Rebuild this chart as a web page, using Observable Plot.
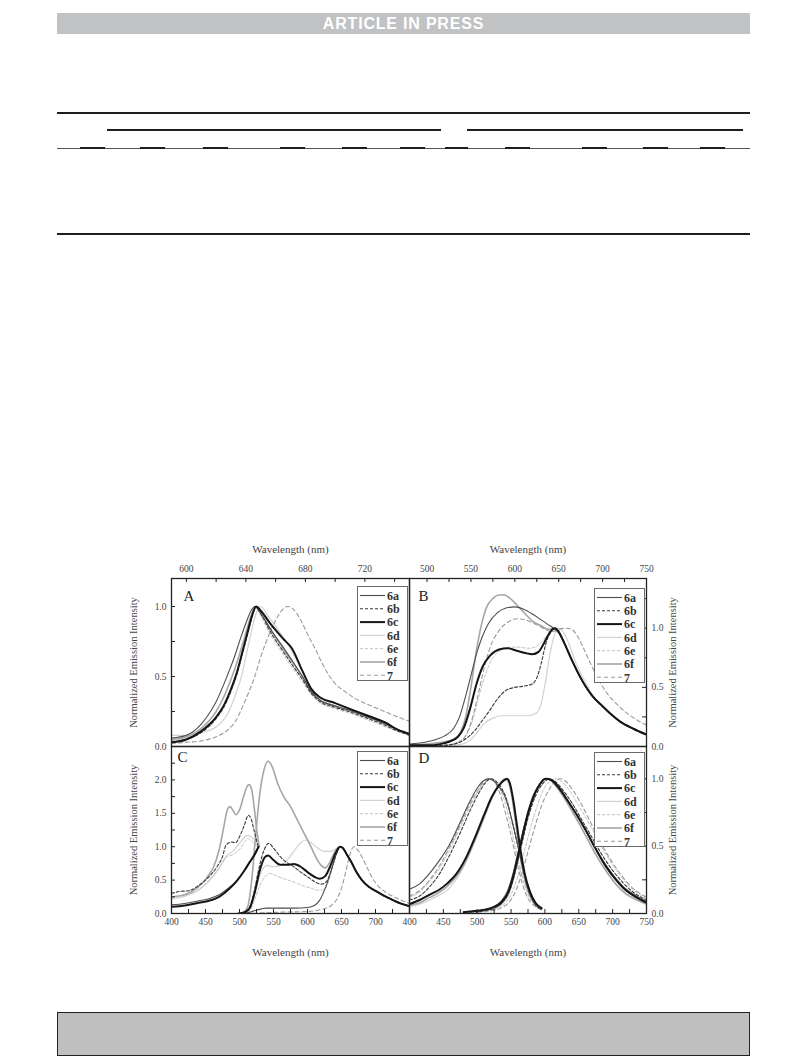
<!DOCTYPE html>
<html>
<head>
<meta charset="utf-8">
<script src="https://cdn.jsdelivr.net/npm/d3@7"></script>
<script src="https://cdn.jsdelivr.net/npm/@observablehq/plot@0.6"></script>
<style>
html,body{margin:0;padding:0;background:#fff;}
#page{position:relative;width:793px;height:1057px;overflow:hidden;background:#fff;}
.abs{position:absolute;}
.rule{position:absolute;background:#1e1e1e;}
</style>
</head>
<body>
<div id="page">
  <div class="abs" style="left:57px;top:13px;width:693px;height:21px;background:#c1c2c4;color:#fff;font-family:'Liberation Sans',Arial,sans-serif;font-weight:bold;font-size:16px;line-height:21px;text-align:center;letter-spacing:0.8px;">ARTICLE IN PRESS</div>
  <div class="rule" style="left:57px;top:112px;width:693px;height:2px;"></div>
  <div class="rule" style="left:107px;top:129px;width:334px;height:1.6px;"></div>
  <div class="rule" style="left:467px;top:129px;width:276px;height:1.6px;"></div>
  <div class="rule" style="left:57px;top:147.5px;width:693px;height:1px;background:#555;"></div>
  <div id="segs"></div>
  <div class="rule" style="left:57px;top:233px;width:693px;height:2px;"></div>
  <div class="abs" style="left:57px;top:1012px;width:691px;height:42px;background:#bfbfbf;border:1px solid #222;"></div>
</div>
<script>
// ---------- series definitions ----------
const series = ["6a","6b","6c","6d","6e","6f","7"];
const seriesStroke = ["#4d4d4d","#3a3a3a","#151515","#d2d2d2","#c2c2c2","#a6a6a6","#9a9a9a"];
const seriesDash = [null,"3,2",null,null,"3,2",null,"4,3"];
const seriesWidth = [1.1,1.1,2.0,1.2,1.0,1.6,1.1];
const drawOrder = [3,4,6,5,1,0,2];

// ---------- panel A (590-750 nm) ----------
const A_6a = [[590,.06],[600,.08],[610,.16],[615,.23],[620,.32],[625,.44],[628,.52],[632,.63],[636,.76],[640,.88],[644,.98],[646,1],[650,.95],[657,.83],[665,.71],[672,.6],[678,.5],[684,.39],[690,.33],[700,.29],[712,.25],[722,.21],[734,.16],[742,.12],[750,.09]];
const A_6b = [[590,.03],[600,.05],[610,.1],[620,.2],[625,.28],[630,.4],[634,.52],[638,.68],[641,.8],[644,.92],[647,1],[650,.95],[657,.81],[665,.68],[672,.57],[678,.48],[684,.38],[690,.32],[700,.28],[712,.24],[722,.2],[734,.15],[742,.11],[750,.08]];
const A_6c = [[590,.03],[600,.05],[610,.11],[620,.21],[625,.29],[630,.41],[634,.53],[638,.69],[641,.81],[644,.93],[647,1],[650,.97],[657,.87],[665,.77],[671,.7],[678,.54],[684,.41],[690,.35],[700,.31],[712,.26],[722,.22],[734,.17],[742,.12],[750,.09]];
const A_6d = [[590,.08],[600,.08],[610,.1],[620,.14],[628,.24],[633,.37],[637,.5],[641,.69],[645,.88],[648,.98],[650,1],[655,.93],[660,.86],[667,.75],[672,.66],[678,.54],[684,.42],[690,.35],[700,.31],[712,.26],[722,.22],[734,.17],[742,.12],[750,.09]];
const A_6e = [[590,.04],[600,.06],[610,.1],[620,.2],[625,.27],[630,.39],[634,.51],[638,.67],[641,.79],[644,.91],[646,1],[650,.93],[657,.79],[665,.66],[672,.55],[678,.46],[684,.37],[690,.31],[700,.27],[712,.23],[722,.19],[734,.14],[742,.11],[750,.08]];
const A_6f = [[590,.05],[600,.07],[610,.13],[620,.25],[625,.35],[630,.48],[634,.6],[638,.74],[641,.85],[644,.95],[646,1],[650,.95],[657,.83],[665,.7],[672,.59],[678,.5],[684,.39],[690,.33],[700,.29],[712,.25],[722,.21],[734,.16],[742,.12],[750,.09]];
const A_7  = [[590,.02],[600,.03],[610,.04],[620,.07],[628,.12],[633,.18],[638,.29],[642,.39],[646,.5],[650,.64],[653,.73],[656,.81],[660,.9],[664,.97],[668,1],[672,.98],[676,.92],[682,.79],[687,.69],[691,.6],[700,.45],[707,.39],[714,.34],[722,.3],[731,.26],[740,.22],[750,.18]];

// ---------- panel B (480-750 nm) ----------
const B_6a = [[480,.02],[500,.04],[510,.06],[520,.09],[530,.15],[537,.25],[543,.4],[550,.6],[557,.8],[563,.93],[570,1.04],[580,1.13],[590,1.17],[600,1.18],[610,1.16],[620,1.12],[630,1.07],[638,1.03],[644,1],[650,.96],[656,.88],[665,.73],[675,.58],[688,.43],[700,.34],[710,.27],[720,.21],[735,.15],[750,.1]];
const B_6b = [[480,0],[500,.005],[520,.01],[535,.03],[545,.07],[555,.14],[563,.22],[570,.29],[580,.4],[589,.47],[600,.5],[610,.51],[620,.53],[625,.58],[630,.7],[635,.86],[640,.96],[645,1],[650,.96],[656,.88],[665,.73],[675,.58],[688,.43],[700,.34],[710,.27],[720,.21],[735,.15],[750,.1]];
const B_6c = [[480,.01],[500,.01],[515,.02],[525,.04],[535,.08],[542,.16],[549,.32],[556,.52],[563,.67],[572,.77],[582,.82],[592,.83],[602,.81],[612,.79],[620,.78],[627,.8],[633,.87],[638,.94],[643,.99],[646,1],[650,.97],[656,.88],[665,.73],[675,.58],[688,.43],[700,.34],[710,.27],[720,.21],[735,.15],[750,.1]];
const B_6d = [[480,0],[520,.005],[540,.02],[550,.06],[558,.13],[566,.2],[575,.24],[585,.26],[600,.26],[615,.26],[624,.28],[630,.36],[635,.55],[640,.78],[645,.94],[650,1],[655,.97],[662,.86],[670,.7],[680,.55],[690,.42],[700,.34],[710,.27],[720,.21],[735,.15],[750,.1]];
const B_6e = [[480,0],[520,.01],[535,.04],[545,.1],[553,.25],[560,.45],[567,.62],[575,.75],[585,.82],[595,.84],[605,.84],[615,.83],[623,.84],[630,.88],[638,.95],[645,1],[650,.96],[656,.87],[665,.72],[675,.57],[688,.42],[700,.34],[710,.27],[720,.21],[735,.15],[750,.1]];
const B_6f = [[480,.01],[500,.02],[520,.04],[530,.06],[538,.12],[544,.25],[550,.5],[556,.8],[562,1.03],[568,1.18],[575,1.25],[582,1.28],[588,1.28],[595,1.25],[603,1.19],[612,1.12],[620,1.06],[630,1.02],[638,.99],[645,1],[650,.97],[656,.88],[665,.73],[675,.58],[688,.43],[700,.34],[710,.27],[720,.21],[735,.15],[750,.1]];
const B_7  = [[480,0],[520,.01],[535,.03],[543,.08],[550,.2],[557,.4],[564,.63],[572,.84],[582,.98],[592,1.05],[602,1.08],[612,1.07],[622,1.04],[632,1.0],[642,.97],[650,.99],[658,1],[665,.99],[670,.95],[677,.85],[685,.72],[695,.57],[705,.45],[716,.36],[728,.28],[740,.22],[750,.18]];

// ---------- panel C (400-750 nm): excitation + emission ----------
const C_ex_6a = [[400,.13],[420,.15],[440,.19],[455,.22],[470,.28],[485,.39],[497,.5],[507,.64],[515,.76],[522,.87],[528,1.0]];
const C_ex_6b = [[400,.3],[412,.33],[425,.34],[440,.42],[455,.55],[467,.7],[475,.85],[480,1.02],[488,1.07],[494,1.06],[500,1.15],[507,1.32],[513,1.47],[517,1.42],[522,1.22],[527,1.02]];
const C_ex_6c = [[400,.1],[420,.12],[440,.16],[455,.19],[470,.25],[485,.37],[497,.5],[507,.64],[515,.77],[522,.88],[528,1.0]];
const C_ex_6d = [[400,.22],[420,.26],[440,.35],[455,.48],[470,.68],[480,.85],[490,.93],[500,1.05],[508,1.15],[513,1.17],[518,1.14],[523,1.08],[528,1.0]];
const C_ex_6e = [[400,.25],[420,.28],[440,.36],[455,.5],[470,.68],[482,.85],[490,.88],[500,.96],[508,1.08],[513,1.12],[518,1.08],[523,1.03],[528,1.0]];
const C_ex_6f = [[400,.25],[415,.27],[430,.33],[445,.45],[455,.58],[462,.7],[470,.95],[477,1.3],[482,1.55],[486,1.6],[490,1.55],[495,1.48],[500,1.55],[506,1.75],[511,1.9],[514,1.93],[518,1.85],[522,1.55],[526,1.2],[529,1.0]];
const C_em_6a = [[505,0],[515,.02],[525,.05],[540,.08],[560,.08],[580,.08],[600,.09],[610,.12],[618,.2],[625,.35],[632,.55],[638,.75],[643,.9],[648,1],[652,.98],[658,.88],[665,.76],[672,.62],[680,.5],[690,.4],[700,.34],[710,.28],[720,.23],[730,.18],[740,.14],[750,.11]];
const C_em_6b = [[495,0],[505,.02],[515,.1],[522,.35],[528,.65],[535,.92],[543,1.05],[550,.98],[560,.85],[570,.76],[580,.7],[590,.62],[600,.55],[610,.48],[620,.44],[628,.48],[635,.65],[642,.88],[648,1],[652,.98],[658,.88],[665,.76],[672,.62],[680,.5],[690,.4],[700,.34],[710,.28],[720,.23],[730,.18],[740,.14],[750,.11]];
const C_em_6c = [[500,0],[508,.02],[515,.08],[522,.3],[530,.65],[537,.84],[542,.87],[550,.8],[560,.73],[570,.73],[580,.74],[590,.7],[600,.62],[610,.55],[618,.52],[626,.56],[634,.72],[641,.9],[648,1],[652,.98],[658,.88],[665,.76],[672,.62],[680,.5],[690,.4],[700,.34],[710,.28],[720,.23],[730,.18],[740,.14],[750,.11]];
const C_em_6d = [[500,0],[510,.03],[518,.15],[525,.4],[532,.62],[540,.72],[550,.7],[560,.72],[570,.8],[580,.93],[590,1.06],[597,1.1],[605,1.06],[615,.98],[625,.93],[635,.93],[642,.97],[648,1],[652,.98],[658,.89],[665,.77],[672,.63],[680,.51],[690,.41],[700,.34],[710,.28],[720,.23],[730,.18],[740,.14],[750,.11]];
const C_em_6e = [[505,0],[515,.04],[522,.2],[530,.42],[538,.56],[545,.6],[555,.56],[565,.52],[575,.49],[585,.45],[595,.41],[605,.38],[615,.35],[622,.35],[630,.45],[637,.7],[643,.9],[648,1],[652,.98],[658,.88],[665,.76],[672,.62],[680,.5],[690,.4],[700,.34],[710,.28],[720,.23],[730,.18],[740,.14],[750,.11]];
const C_em_6f = [[505,0],[512,.1],[518,.5],[524,1.2],[530,1.8],[536,2.15],[542,2.28],[548,2.2],[556,1.95],[565,1.75],[575,1.6],[585,1.4],[595,1.2],[605,1.0],[613,.83],[620,.72],[626,.68],[632,.75],[638,.88],[643,.97],[648,1],[652,.98],[658,.88],[665,.76],[672,.62],[680,.5],[690,.4],[700,.34],[710,.28],[720,.23],[730,.18],[740,.14],[750,.11]];
const C_em_7  = [[520,0],[560,.02],[600,.03],[620,.06],[635,.12],[645,.25],[652,.45],[658,.7],[663,.9],[668,1],[673,.96],[680,.85],[688,.68],[696,.52],[705,.4],[715,.32],[725,.26],[738,.2],[750,.15]];

// ---------- panel D (400-750 nm): excitation + emission ----------
const D_ex_6a = [[400,.18],[415,.22],[430,.3],[445,.4],[460,.52],[475,.68],[488,.82],[500,.93],[508,.98],[515,1],[523,.99],[532,.94],[540,.88],[550,.72],[558,.55],[566,.37],[574,.2],[582,.1],[590,.05],[595,.03]];
const D_ex_6b = [[400,.1],[415,.13],[430,.2],[445,.3],[460,.44],[475,.6],[490,.77],[503,.9],[512,.97],[520,1],[528,.98],[536,.93],[544,.84],[552,.67],[560,.5],[568,.32],[576,.17],[585,.07],[595,.03]];
const D_ex_6c = [[400,.07],[415,.1],[430,.14],[445,.18],[455,.22],[470,.3],[485,.43],[498,.58],[510,.73],[522,.87],[532,.95],[540,.99],[544,1],[548,.97],[553,.85],[558,.68],[564,.47],[570,.3],[578,.16],[586,.08],[595,.04]];
const D_ex_6d = [[400,.05],[415,.07],[430,.1],[445,.14],[455,.17],[470,.26],[485,.4],[498,.56],[510,.72],[522,.87],[532,.96],[540,1],[545,.98],[550,.9],[556,.72],[562,.5],[568,.32],[576,.16],[585,.07],[595,.03]];
const D_ex_6e = [[400,.12],[415,.16],[430,.24],[445,.34],[460,.48],[475,.64],[490,.8],[503,.92],[512,.98],[518,1],[526,.98],[534,.92],[542,.81],[550,.64],[558,.45],[566,.28],[574,.15],[584,.07],[595,.03]];
const D_ex_6f = [[400,.06],[415,.08],[430,.12],[445,.16],[455,.2],[470,.28],[485,.41],[498,.56],[510,.71],[522,.86],[532,.95],[538,.99],[542,1],[546,.98],[551,.88],[556,.7],[562,.48],[568,.3],[576,.15],[585,.07],[595,.03]];
const D_ex_7  = [[400,.13],[415,.17],[430,.25],[445,.36],[460,.5],[475,.66],[490,.82],[503,.93],[512,.99],[518,1],[525,.98],[533,.9],[541,.76],[549,.6],[557,.42],[565,.25],[574,.12],[584,.06],[595,.03]];
const D_em_6a = [[480,.01],[500,.02],[520,.04],[535,.09],[545,.17],[553,.3],[560,.45],[567,.6],[575,.76],[583,.88],[592,.96],[600,1],[608,.99],[618,.94],[630,.86],[645,.75],[660,.62],[675,.48],[690,.36],[705,.26],[720,.18],[735,.13],[750,.09]];
const D_em_6b = [[490,.01],[510,.02],[525,.04],[540,.1],[550,.2],[558,.35],[566,.52],[574,.69],[582,.82],[592,.93],[600,.98],[606,1],[615,.98],[626,.92],[640,.82],[655,.69],[670,.56],[685,.43],[700,.32],[715,.23],[730,.16],[750,.1]];
const D_em_6c = [[480,.01],[500,.02],[520,.04],[535,.08],[545,.15],[553,.27],[560,.42],[568,.6],[576,.76],[585,.89],[594,.97],[601,1],[610,.99],[620,.94],[632,.85],[646,.74],[660,.62],[675,.48],[690,.35],[705,.25],[720,.17],[735,.12],[750,.08]];
const D_em_6d = [[480,.01],[500,.02],[520,.03],[535,.07],[545,.14],[553,.26],[560,.41],[568,.59],[576,.76],[585,.89],[594,.97],[600,1],[608,.99],[618,.93],[630,.84],[645,.71],[660,.58],[675,.44],[690,.32],[705,.22],[720,.15],[735,.1],[750,.07]];
const D_em_6e = [[495,.01],[515,.02],[530,.04],[545,.1],[555,.2],[563,.33],[571,.49],[580,.66],[590,.82],[600,.94],[610,.99],[617,1],[627,.97],[638,.9],[650,.8],[665,.67],[680,.53],[695,.4],[710,.29],[725,.2],[740,.14],[750,.11]];
const D_em_6f = [[480,.01],[500,.02],[520,.03],[535,.07],[545,.13],[553,.25],[560,.4],[568,.58],[576,.75],[585,.88],[594,.97],[601,1],[609,.99],[619,.93],[631,.84],[646,.71],[661,.57],[676,.43],[691,.31],[706,.21],[721,.14],[736,.1],[750,.07]];
const D_em_7  = [[500,.01],[520,.02],[535,.04],[548,.09],[558,.18],[566,.3],[575,.46],[585,.64],[595,.8],[605,.91],[615,.98],[623,1],[631,.98],[642,.91],[655,.8],[668,.67],[682,.53],[697,.4],[712,.29],[727,.2],[740,.15],[750,.12]];

// ---------- axis tick labels ----------
const A_xLabels = [600,640,680,720];
const A_xTicks = [600,620,640,660,680,700,720,740];
const A_yLabels = [0,0.5,1.0];
const A_yTicks = [0,0.25,0.5,0.75,1.0];
const B_xLabels = [500,550,600,650,700,750];
const B_xTicks = [500,525,550,575,600,625,650,675,700,725];
const B_yLabels = [0,0.5,1.0];
const B_yTicks = [0,0.25,0.5,0.75,1.0,1.25];
const C_xLabels = [400,450,500,550,600,650,700];
const C_xTicks = [425,450,475,500,525,550,575,600,625,650,675,700,725];
const C_yLabels = [0,0.5,1.0,1.5,2.0];
const C_yTicks = [0,0.25,0.5,0.75,1.0,1.25,1.5,1.75,2.0,2.25];
const D_xLabels = [400,450,500,550,600,650,700,750];
const D_xTicks = [425,450,475,500,525,550,575,600,625,650,675,700,725];
const D_yLabels = [0,0.5,1.0];
const D_yTicks = [0,0.25,0.5,0.75,1.0];

const xTitle = "Wavelength (nm)";
const yTitle = "Normalized Emission Intensity";

// ---------- build tables ----------
function rows(list) {
  const out = [];
  for (const [si, seg, pts] of list) for (const [x, y] of pts) out.push({s: series[si], seg, x, y});
  return out;
}
const dataA = rows([[0,"a",A_6a],[1,"a",A_6b],[2,"a",A_6c],[3,"a",A_6d],[4,"a",A_6e],[5,"a",A_6f],[6,"a",A_7]]);
const dataB = rows([[0,"a",B_6a],[1,"a",B_6b],[2,"a",B_6c],[3,"a",B_6d],[4,"a",B_6e],[5,"a",B_6f],[6,"a",B_7]]);
const dataC = rows([[0,"ex",C_ex_6a],[1,"ex",C_ex_6b],[2,"ex",C_ex_6c],[3,"ex",C_ex_6d],[4,"ex",C_ex_6e],[5,"ex",C_ex_6f],
                    [0,"em",C_em_6a],[1,"em",C_em_6b],[2,"em",C_em_6c],[3,"em",C_em_6d],[4,"em",C_em_6e],[5,"em",C_em_6f],[6,"em",C_em_7]]);
const dataD = rows([[0,"ex",D_ex_6a],[1,"ex",D_ex_6b],[2,"ex",D_ex_6c],[3,"ex",D_ex_6d],[4,"ex",D_ex_6e],[5,"ex",D_ex_6f],[6,"ex",D_ex_7],
                    [0,"em",D_em_6a],[1,"em",D_em_6b],[2,"em",D_em_6c],[3,"em",D_em_6d],[4,"em",D_em_6e],[5,"em",D_em_6f],[6,"em",D_em_7]]);

const TXT = "#444";
const FONT = "'Liberation Serif','Times New Roman',serif";

function makePanel(cfg) {
  const plotW = cfg.width - cfg.ml - cfg.mr;
  const plotH = cfg.height - cfg.mt - cfg.mb;
  const marks = [];
  for (const i of drawOrder) {
    const s = series[i];
    const d = cfg.data.filter(r => r.s === s);
    if (!d.length) continue;
    marks.push(Plot.line(d, {x: "x", y: "y", z: "seg", curve: "monotone-x", clip: true,
      stroke: seriesStroke[i], strokeWidth: seriesWidth[i],
      strokeDasharray: seriesDash[i] || undefined}));
  }
  const xTickOpt = cfg.xAnchor === "top" ? {insetBottom: plotH - 4} : {insetTop: plotH - 4};
  marks.push(Plot.ruleX(cfg.xTicks, {x: d => d, stroke: "#222", strokeWidth: 1, ...xTickOpt}));
  const yTickOpt = cfg.yAnchor === "left" ? {insetRight: plotW - 4} : {insetLeft: plotW - 4};
  marks.push(Plot.ruleY(cfg.yTicks, {y: d => d, stroke: "#222", strokeWidth: 1, ...yTickOpt}));
  marks.push(Plot.frame({stroke: "#222", strokeWidth: 1.3}));
  marks.push(Plot.axisX({anchor: cfg.xAnchor, ticks: cfg.xLabels, tickSize: 0,
    tickPadding: cfg.xAnchor === "top" ? 7 : 5, label: null, tickFormat: d => String(d),
    fontSize: 9.5, color: TXT}));
  marks.push(Plot.axisY({anchor: cfg.yAnchor, ticks: cfg.yLabels, tickSize: 0,
    tickPadding: 5, label: null, tickFormat: d => d.toFixed(1), fontSize: 9.5, color: TXT}));
  marks.push(Plot.text([xTitle], {frameAnchor: cfg.xAnchor, dy: cfg.xAnchor === "top" ? -29 : 39,
    textAnchor: "middle", lineAnchor: "middle", text: d => d, fontSize: 11, fill: TXT}));
  marks.push(Plot.text([yTitle], {frameAnchor: cfg.yAnchor, dx: cfg.yAnchor === "left" ? -38 : 26,
    rotate: -90, textAnchor: "middle", lineAnchor: "middle", text: d => d, fontSize: 10.5, fill: TXT}));
  marks.push(Plot.text([cfg.letter], {frameAnchor: "top-left", dx: cfg.letterDx, dy: cfg.letterDy,
    textAnchor: "start", lineAnchor: "middle", text: d => d, fontSize: 15, fill: "#222"}));
  const svg = Plot.plot({
    width: cfg.width, height: cfg.height,
    marginLeft: cfg.ml, marginRight: cfg.mr, marginTop: cfg.mt, marginBottom: cfg.mb,
    x: {domain: cfg.xDomain},
    y: {domain: cfg.yDomain},
    style: {fontFamily: FONT, fontSize: "9.5px", background: "transparent", overflow: "visible"},
    marks
  });
  svg.style.position = "absolute";
  svg.style.left = cfg.left + "px";
  svg.style.top = cfg.top + "px";
  svg.style.maxWidth = "none";
  document.getElementById("page").appendChild(svg);
}

// frame geometry: x 171 | 409 | 646 ; y 578 | 746 | 913
makePanel({letter: "A", left: 100, top: 530, width: 310, height: 220, ml: 71, mr: 1, mt: 48, mb: 4,
  xDomain: [590, 750], yDomain: [0, 1.2], xAnchor: "top", yAnchor: "left",
  xLabels: A_xLabels, xTicks: A_xTicks, yLabels: A_yLabels, yTicks: A_yTicks,
  letterDx: 12, letterDy: 18, data: dataA});
makePanel({letter: "B", left: 399, top: 530, width: 301, height: 220, ml: 10, mr: 54, mt: 48, mb: 4,
  xDomain: [480, 750], yDomain: [0, 1.42], xAnchor: "top", yAnchor: "right",
  xLabels: B_xLabels, xTicks: B_xTicks, yLabels: B_yLabels, yTicks: B_yTicks,
  letterDx: 9, letterDy: 18, data: dataB});
makePanel({letter: "C", left: 100, top: 742, width: 310, height: 221, ml: 71, mr: 1, mt: 4, mb: 50,
  xDomain: [400, 750], yDomain: [0, 2.5], xAnchor: "bottom", yAnchor: "left",
  xLabels: C_xLabels, xTicks: C_xTicks, yLabels: C_yLabels, yTicks: C_yTicks,
  letterDx: 6, letterDy: 11, data: dataC});
makePanel({letter: "D", left: 399, top: 742, width: 301, height: 221, ml: 10, mr: 54, mt: 4, mb: 50,
  xDomain: [400, 750], yDomain: [0, 1.24], xAnchor: "bottom", yAnchor: "right",
  xLabels: D_xLabels, xTicks: D_xTicks, yLabels: D_yLabels, yTicks: D_yTicks,
  letterDx: 9, letterDy: 12, data: dataD});

// ---------- legends ----------
function legend(x, y) {
  const w = 50, h = 94;
  const svg = d3.select("#page").append("svg").attr("class", "abs")
    .style("left", x + "px").style("top", y + "px").attr("width", w + 2).attr("height", h + 2);
  svg.append("rect").attr("x", 0.5).attr("y", 0.5).attr("width", w).attr("height", h)
    .attr("fill", "#fff").attr("stroke", "#6a6a6a").attr("stroke-width", 1);
  series.forEach((s, i) => {
    const yy = 9.5 + i * 13.3;
    svg.append("line").attr("x1", 3).attr("x2", 28).attr("y1", yy).attr("y2", yy)
      .attr("stroke", seriesStroke[i]).attr("stroke-width", seriesWidth[i])
      .attr("stroke-dasharray", seriesDash[i]);
    svg.append("text").attr("x", 30).attr("y", yy).attr("dy", "0.35em").text(s)
      .attr("font-family", FONT).attr("font-weight", "bold").attr("font-size", 12).attr("fill", "#333");
  });
}
legend(357, 586);
legend(594, 588);
legend(357, 751);
legend(594, 752);

// ---------- table decoration segments ----------
const segs = [[80,105],[140,165],[203,228],[280,305],[342,367],[400,425],[445,468],[505,530],[582,607],[643,668],[700,725]];
const segHost = document.getElementById("segs");
for (const [a, b] of segs) {
  const d = document.createElement("div");
  d.className = "rule";
  d.style.cssText = `left:${a}px;top:146.8px;width:${b - a}px;height:2.4px;`;
  segHost.appendChild(d);
}
</script>
</body>
</html>
